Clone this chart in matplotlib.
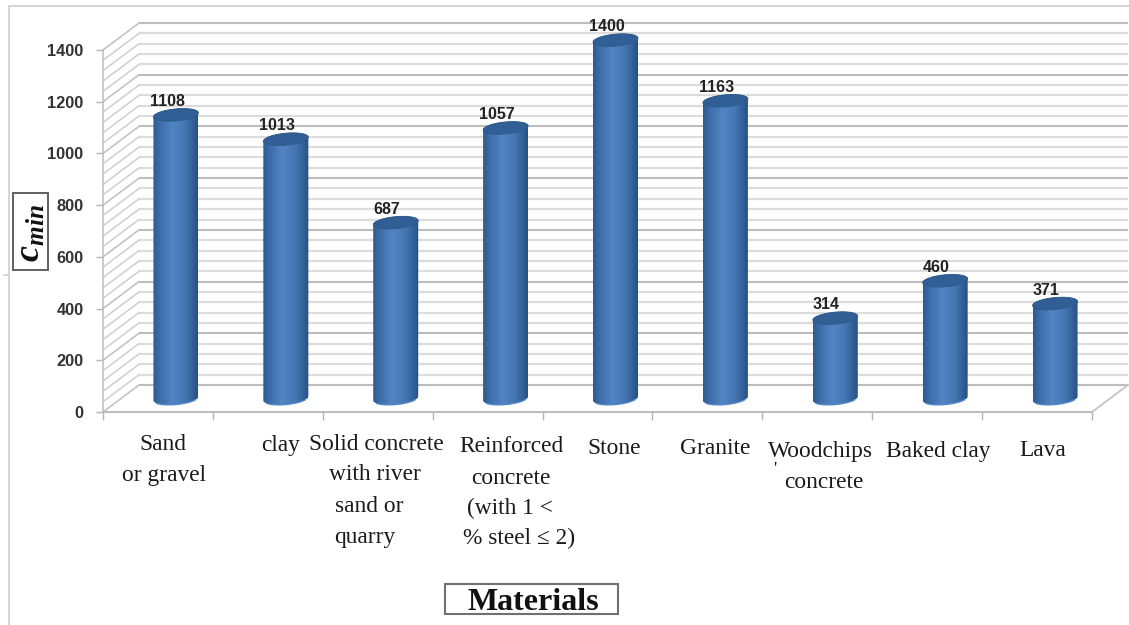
import numpy as np
import matplotlib
matplotlib.use('Agg')
import matplotlib.pyplot as plt
from matplotlib.lines import Line2D
from matplotlib.patches import PathPatch, Polygon, Rectangle
from matplotlib.path import Path
from matplotlib.colors import LinearSegmentedColormap

materials = ['Sand or gravel', 'clay', 'Solid concrete with river sand or quarry',
             'Reinforced concrete (with 1 < % steel ≤ 2)', 'Stone', 'Granite',
             'Woodchips concrete', 'Baked clay', 'Lava']
c_min = [1108, 1013, 687, 1057, 1400, 1163, 314, 460, 371]
y_ticks = [0, 200, 400, 600, 800, 1000, 1200, 1400]
minor_levels = [40 * i for i in range(0, 36)]

# category text, one line at a time: text, centre x, centre y in pixels
label_lines = [('Sand', 163, 444), ('or gravel', 164, 475),
               ('clay', 281, 445),
               ('Solid concrete', 376, 445), ('with river', 375, 475),
               ('sand or', 369, 506), ('quarry', 365, 537),
               ('Reinforced', 511, 447), ('concrete', 511, 478),
               ('(with 1 <', 510, 508), ('% steel ≤ 2)', 519, 538),
               ('Stone', 614, 449), ('Granite', 715, 449),
               ('Woodchips', 820, 451), ('concrete', 824, 482),
               ('Baked clay', 938, 451), ('Lava', 1043, 451)]

W, H = 1129, 625
fig = plt.figure(figsize=(W / 100, H / 100), dpi=100)

# front plane of the chart: x 103..1092, y 412..50 in pixels
ax = fig.add_axes([103 / W, 1 - 412 / H, 989 / W, 362 / H])
ax.set_xlim(0, 9)
ax.set_ylim(0, 1400)
ax.patch.set_visible(False)

depth_x = 36 / (989 / 9)
depth_y = 27 / (362 / 1400)
n = len(c_min)

for lev in minor_levels:
    major = lev % 200 == 0
    col = '#bdbdbd' if major else '#dcdcdc'
    lw = 1.5 if major else 1.6
    ax.plot([depth_x, 9 + depth_x * 1.0], [lev + depth_y] * 2, color=col, lw=lw,
            clip_on=False, zorder=1, solid_capstyle='butt')
    ax.plot([0, depth_x], [lev, lev + depth_y], color='#bfbfbf' if major else '#cfcfcf',
            lw=1.1, clip_on=False, zorder=1)

# right hand edge of the floor
ax.plot([9, 9 + depth_x], [0, depth_y], color='#c4c4c4', lw=1.3, clip_on=False, zorder=1)

for s in ['top', 'right']:
    ax.spines[s].set_visible(False)
for s in ['left', 'bottom']:
    ax.spines[s].set_color('#bdbdbd')
    ax.spines[s].set_linewidth(1.5)
ax.spines['left'].set_linewidth(1.1)
ax.set_yticks(y_ticks)
ax.set_xticks(range(0, 10))
ax.set_xticklabels([])
ax.tick_params(axis='y', length=5, width=1.0, color='#b5b5b5', pad=9, labelsize=11.8,
               labelcolor='#333333')
ax.tick_params(axis='x', length=5.5, width=1.0, color='#b5b5b5')
for t in ax.get_yticklabels():
    t.set_family('Liberation Sans')
    t.set_fontweight('bold')

# cylinder shading, dark at both edges with a lighter band left of centre
cyl = LinearSegmentedColormap.from_list('cyl', [(0, '#2f5a8e'), (0.12, '#3a6aa6'), (0.42, '#5285c4'),
                                                (0.7, '#4677b4'), (0.92, '#2f5c94'), (1, '#27507f')])
grad = np.linspace(0, 1, 128).reshape(1, -1)

half_w = 22.5 / (989 / 9)
rad_y = 6.0 / (362 / 1400)
tilt = 2.0 / (362 / 1400)
t_bot = np.linspace(np.pi, 2 * np.pi, 40)
t_top = np.linspace(0, 2 * np.pi, 80)

for i, val in enumerate(c_min):
    cx = i + 0.5 + depth_x / 2
    base = depth_y / 2
    top = val * 0.99 + depth_y / 2
    xb = cx + half_w * np.cos(t_bot)
    yb = base + rad_y * np.sin(t_bot) + tilt * np.cos(t_bot)
    t_up = np.linspace(0, np.pi, 40)
    xt = cx + half_w * np.cos(t_up)
    yt = top + rad_y * np.sin(t_up) + tilt * np.cos(t_up)
    body = Path(np.column_stack([np.r_[xb, xt], np.r_[yb, yt]]))
    im = ax.imshow(grad, extent=[cx - half_w, cx + half_w, -100, 1600], cmap=cyl, aspect='auto',
                   zorder=3, interpolation='bilinear')
    im.set_clip_path(PathPatch(body, transform=ax.transData))
    im.set_clip_box(fig.bbox)
    xe = cx + half_w * np.cos(t_top)
    ye = top + rad_y * np.sin(t_top) + tilt * np.cos(t_top)
    ax.add_patch(Polygon(np.column_stack([xe, ye]), closed=True, fc='#315f95', ec='#2d5a8c', lw=0.6,
                         zorder=4, clip_on=False))
    # light rim along the foot of the cylinder
    ax.plot(xb[7:-7], yb[7:-7], color='#4f86c6', lw=1.0, zorder=4, clip_on=False)
    ax.annotate(str(val), (cx, top), xytext=(-6.3, 9.5), textcoords='offset points',
                ha='center', va='center', fontsize=11.5, fontweight='bold', family='Liberation Sans',
                color='#222222', zorder=5, annotation_clip=False)

ax.set_xlim(0, 9)
ax.set_ylim(0, 1400)


def px(x, y):
    return x / W, 1 - y / H


for txt, x, y in label_lines:
    fx, fy = px(x, y)
    fig.text(fx, fy, txt, ha='center', va='center', family='Liberation Serif', fontsize=16.8, color='#1a1a1a')
fx, fy = px(775, 471)
fig.text(fx, fy, "'", ha='center', va='center', family='Liberation Serif', fontsize=13, color='#1a1a1a')

# outer frame of the chart area
frame = [((9, 9), (6, 625)), ((9, 1129), (6, 6)), ((4, 9), (275, 275))]
for xs, ys in frame:
    fig.add_artist(Line2D([x / W for x in xs], [1 - y / H for y in ys], color='#d0d0d0', lw=1.2))

# boxed axis titles
plt.rcParams['mathtext.fontset'] = 'custom'
plt.rcParams['mathtext.bfit'] = 'Liberation Serif:italic:bold'
plt.rcParams['mathtext.rm'] = 'Liberation Serif'

fig.add_artist(Rectangle(px(13, 270), 35 / W, 77 / H, transform=fig.transFigure, fc='white',
                         ec='#606060', lw=1.4))
fx, fy = px(30, 233)
fig.text(fx, fy, r'$\mathbfit{c_{min}}$', rotation=90, ha='center', va='center', fontsize=26, color='#111111')

fig.add_artist(Rectangle(px(445, 614), 173 / W, 30 / H, transform=fig.transFigure, fc='white',
                         ec='#707070', lw=1.5))
fx, fy = px(533, 602)
fig.text(fx, fy, 'Materials', ha='center', va='center', family='Liberation Serif', fontweight='bold',
         fontsize=23, color='#111111')

fig.savefig('out.png', dpi=100)
